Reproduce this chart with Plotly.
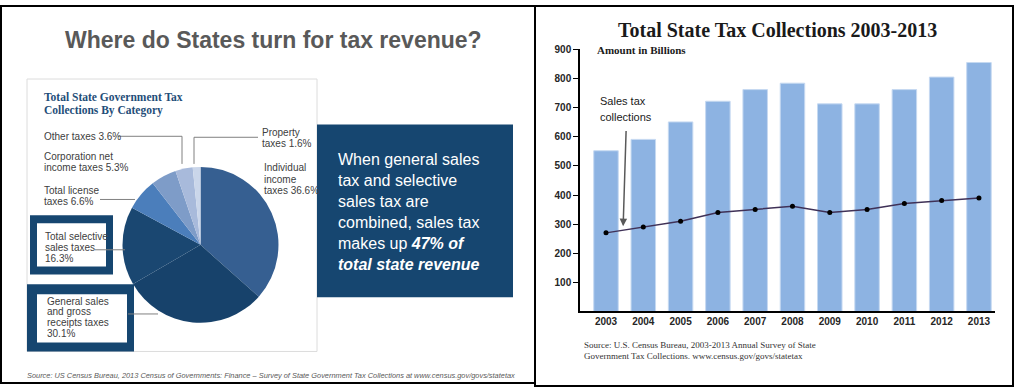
import plotly.graph_objects as go

W, H = 1016, 387
def X(px): return px / W
def Y(py): return 1 - py / H

# ---------------- data ----------------
pie_categories = ["Individual income taxes", "General sales and gross receipts taxes",
                  "Total selective sales taxes", "Total license taxes",
                  "Corporation net income taxes", "Other taxes", "Property taxes"]
pie_shares = [36.6, 30.1, 16.3, 6.6, 5.3, 3.6, 1.6]
pie_colors = ["#365f91", "#17426b", "#1a4771", "#4b7ebb", "#7e9cc8", "#a8badb", "#cad6ea"]

years = [2003, 2004, 2005, 2006, 2007, 2008, 2009, 2010, 2011, 2012, 2013]
total_collections = [552, 591, 651, 722, 762, 784, 713, 713, 762, 805, 855]
sales_tax_collections = [270, 290, 310, 340, 350, 361, 340, 350, 371, 381, 390]
y_ticks = [100, 200, 300, 400, 500, 600, 700, 800, 900]

fig = go.Figure()

# ---------------- pie ----------------
fig.add_trace(go.Pie(
    labels=pie_categories, values=pie_shares, sort=False, direction="clockwise",
    rotation=0, textinfo="none", showlegend=False,
    marker=dict(colors=pie_colors, line=dict(width=0)),
    domain=dict(x=[X(121.5), X(279.5)], y=[Y(322), Y(164)]),
))

# ---------------- bar + line ----------------
fig.add_trace(go.Bar(
    x=years, y=total_collections, width=0.657, showlegend=False,
    marker=dict(color="#8db3e2", line=dict(color="#c6d9f1", width=1)),
    xaxis="x", yaxis="y",
))
fig.add_trace(go.Scatter(
    x=years, y=sales_tax_collections, mode="lines+markers", showlegend=False,
    line=dict(color="#3f3157", width=1.5),
    marker=dict(color="#000000", size=5),
    xaxis="x", yaxis="y",
))

shapes = []
def rect(x0, y0, x1, y1, line=None, fill=None, width=1, layer="above"):
    shapes.append(dict(type="rect", xref="paper", yref="paper",
                       x0=X(x0), x1=X(x1), y0=Y(y1), y1=Y(y0), layer=layer,
                       line=dict(color=line or "rgba(0,0,0,0)", width=width if line else 0),
                       fillcolor=fill or "rgba(0,0,0,0)"))
def seg(pts, color="#808080", width=1):
    for (xa, ya), (xb, yb) in zip(pts[:-1], pts[1:]):
        shapes.append(dict(type="line", xref="paper", yref="paper",
                           x0=X(xa), y0=Y(ya), x1=X(xb), y1=Y(yb),
                           line=dict(color=color, width=width), layer="above"))

# panel borders
rect(1, 1, 535, 383, line="#000000", width=2)
rect(535, 1, 1013, 386, line="#000000", width=2)
# inner light panel
rect(27, 75, 317, 351, line="#dcdcdc", width=1, layer="below")
# navy callout box
rect(317, 121, 513, 296, fill="#164670")
# label boxes
rect(30, 213, 113, 273, fill="#164670")
rect(37, 221, 106, 265, fill="#ffffff")
rect(27, 283, 134, 351, fill="#164670")
rect(37, 293, 127, 342, fill="#ffffff")
# leader lines
seg([(118, 133), (182, 133), (182, 161)])
seg([(194, 161), (194, 134), (258, 134)])
seg([(100, 197), (135, 197)])
seg([(95, 248), (125, 248)])
seg([(128, 313), (158, 313)])

annotations = []
def txt(s, x, y, size, color="#404040", family="Liberation Sans", xanchor="left"):
    annotations.append(dict(text=s, x=X(x), y=Y(y), xref="paper", yref="paper",
                            xanchor=xanchor, yanchor="middle", showarrow=False,
                            font=dict(size=size, color=color, family=family)))
def lines(ls, x, y0, dy, size, **kw):
    for i, s in enumerate(ls):
        txt(s, x, y0 + i * dy, size, **kw)

# left panel texts
txt("<b>Where do States turn for tax revenue?</b>", 273, 35, 23, color="#595959", xanchor="center")
lines(["<b>Total State Government Tax</b>", "<b>Collections By Category</b>"], 42, 93, 14, 11.5,
      color="#1f4e79", family="Liberation Serif")
lbl = 10
txt("Other taxes 3.6%", 42, 133, lbl)
lines(["Corporation net", "income taxes 5.3%"], 42, 153, 11.5, lbl)
lines(["Total license", "taxes 6.6%"], 42, 188, 11.5, lbl)
lines(["Total selective", "sales taxes", "16.3%"], 43, 235, 11, lbl)
lines(["General sales", "and gross", "receipts taxes", "30.1%"], 45, 300, 11, lbl)
lines(["Property", "taxes 1.6%"], 260, 129, 11, lbl)
lines(["Individual", "income", "taxes 36.6%"], 262, 165, 11.3, lbl)
lines(["When general sales", "tax and selective", "sales tax are", "combined, sales tax",
       "makes up <b><i>47% of</i></b>", "<b><i>total state revenue</i></b>"],
      336, 157, 21.2, 16, color="#ffffff")
txt("<i>Source: US Census Bureau, 2013 Census of Governments: Finance – Survey of State Government Tax Collections at www.census.gov/govs/statetax</i>",
    25, 375, 7.4, color="#595959")

# right panel texts
txt("<b>Total State Tax Collections 2003-2013</b>", 777, 25, 20, color="#1a1a1a",
    family="Liberation Serif", xanchor="center")
txt("<b>Amount in Billions</b>", 595, 46, 11, color="#1a1a1a", family="Liberation Serif")
lines(["Sales tax", "collections"], 598, 97, 16, 11, color="#1a1a1a")
lines(["Source: U.S. Census Bureau, 2003-2013 Annual Survey of State",
       "Government Tax Collections. www.census.gov/govs/statetax"], 582, 344, 12, 9,
      color="#333333", family="Liberation Serif")

# arrow pointing at the sales tax line
annotations.append(dict(x=2003.46, y=293, ax=2003.54, ay=625, xref="x", yref="y",
                        axref="x", ayref="y", text="", showarrow=True, arrowhead=2,
                        arrowsize=1, arrowwidth=1.5, arrowcolor="#595959"))

tick_font = dict(size=10, color="#262626", family="Liberation Sans", weight="bold")
fig.update_layout(
    width=W, height=H, margin=dict(l=0, r=0, t=0, b=0),
    paper_bgcolor="#ffffff", plot_bgcolor="#ffffff",
    shapes=shapes, annotations=annotations, bargap=0.3,
    xaxis=dict(domain=[X(580), X(995)], range=[2002.303, 2013.43], tickvals=years,
               showline=True, linecolor="#000000", linewidth=1.5, ticks="",
               showgrid=False, zeroline=False, tickfont=tick_font),
    yaxis=dict(domain=[Y(310.5), Y(45)], range=[0, 900], tickvals=y_ticks,
               showline=True, linecolor="#000000", linewidth=1.5, ticks="outside",
               ticklen=5, tickcolor="#000000", showgrid=False, zeroline=False,
               tickfont=tick_font),
)

fig.write_html("out.html", config={"displayModeBar": False},
               post_script="document.body.style.margin='0';document.body.style.overflow='hidden';")
